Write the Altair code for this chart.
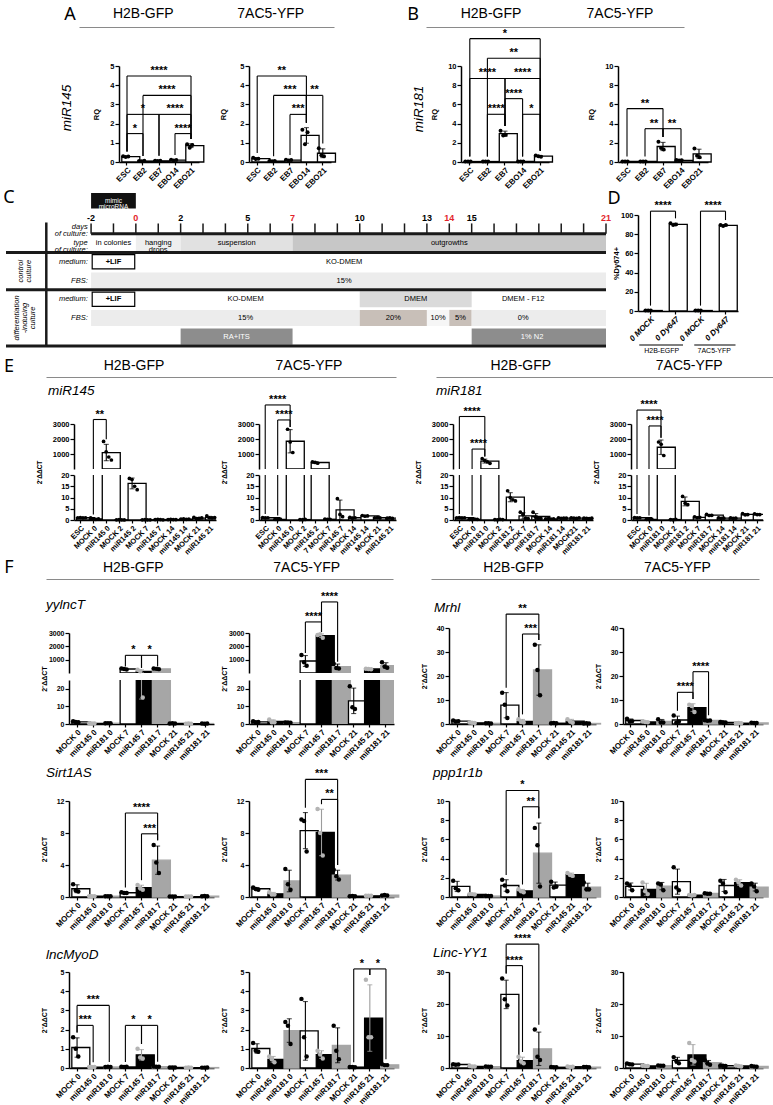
import altair as alt
import numpy as np
import pandas as pd

FONT = "Liberation Sans"
LETTER_FONT = "Noto Sans"
ONE = pd.DataFrame({"k": [0]})
HEADS = ["H2B-GFP", "7AC5-YFP"]
DDCT = "2\u207b\u0394\u0394CT"

# ---------------- A / B : RQ across differentiation stages ----------------
STAGES = ["ESC", "EB2", "EB7", "EBO14", "EBO21"]
A_H2B_PTS = [[0.30, 0.26, 0.28], [0.05, 0.04, 0.06], [0.06, 0.05, 0.07], [0.12, 0.08, 0.10], [0.92, 0.74, 0.89]]
A_7AC5_PTS = [[0.22, 0.15, 0.17], [0.05, 0.04, 0.05], [0.12, 0.08, 0.10], [1.68, 0.92, 1.55], [0.72, 0.35, 0.30]]
B_H2B_PTS = [[0.05, 0.06, 0.04], [0.05, 0.04, 0.06], [3.25, 2.75, 2.85], [0.05, 0.04, 0.06], [0.68, 0.60, 0.55]]
B_7AC5_PTS = [[0.05, 0.04, 0.06], [0.05, 0.04, 0.06], [2.10, 1.45, 1.30], [0.20, 0.15, 0.18], [1.40, 0.65, 0.50]]
A_H2B_SIG = [(0, 1, 1.48, "*"), (0, 2, 2.48, "*"), (2, 4, 2.48, "****"), (3, 4, 1.48, "****"),
             (1, 4, 3.47, "****"), (0, 4, 4.48, "****")]
A_7AC5_SIG = [(2, 3, 2.48, "***"), (1, 3, 3.47, "***"), (3, 4, 3.47, "**"), (0, 3, 4.48, "**")]
B_H2B_SIG = [(1, 2, 4.97, "****"), (3, 4, 4.97, "*"), (2, 3, 6.6, "****"), (0, 2, 8.7, "****"),
             (2, 4, 8.7, "****"), (1, 4, 10.8, "**"), (0, 4, 12.85, "*")]
B_7AC5_SIG = [(1, 2, 3.47, "**"), (2, 3, 3.47, "**"), (0, 2, 5.56, "**")]

# ---------------- D : Dy647 uptake ----------------
D_LABELS = ["0 MOCK", "0 Dy647", "0 MOCK", "0 Dy647"]
D_PTS = [[0.4, 0.6, 0.5], [91.5, 89.5, 90.0], [0.5, 0.4, 0.6], [89.5, 88.5, 89.5]]
D_SIG = [(0, 1, 104, "****"), (2, 3, 104, "****")]
D_GROUPS = [("H2B-EGFP", -0.45, 1.3, 0.45), ("7AC5-YFP", 1.75, 3.4, 2.55)]

# ---------------- E : mimic levels after transfection ----------------
E1_LABELS = ["ESC", "MOCK 0", "miR145 0", "MOCK 2", "miR145 2", "MOCK 7", "miR145 7", "MOCK 14",
             "miR145 14", "MOCK 21", "miR145 21"]
E1_PTS = [[1.0, 1.1, 0.9, 1.0], [0.9, 0.4, 0.3, 0.5], [1840, 1150, 800, 600], [0.1, 0.15, 0.1, 0.05],
          [18.5, 18.0, 15.0, 13.5], [0.1, 0.15, 0.1, 0.1], [0.2, 0.3, 0.2, 0.1], [0.2, 0.3, 0.2, 0.2],
          [0.4, 0.5, 0.3, 0.4], [1.2, 0.6, 0.7, 0.9], [1.8, 1.0, 0.9, 1.1]]
E1_SIG = [(1, 2, 3300, "**")]
E2_LABELS = ["ESC", "MOCK 0", "miR145 0", "MOCK 2", "miR145 2", "7 MOCK 7", "miR145 7", "MOCK 14",
             "miR145 14", "MOCK 21", "miR145 21"]
E2_PTS = [[1.1, 0.9, 1.0], [0.3, 0.2, 0.4], [2650, 1800, 1100], [0.2, 0.15, 0.25], [470, 440, 390],
          [0.4, 0.3, 0.3], [9.5, 2.5, 1.5], [1.2, 0.8, 1.0], [2.0, 1.7, 1.8], [1.0, 1.1, 0.9], [0.8, 0.9, 0.7]]
E2_SIG = [(1, 2, 3270, "****"), (0, 2, 4270, "****")]
E3_LABELS = ["ESC", "MOCK 0", "miR181 0", "MOCK 2", "miR181 2", "MOCK 7", "miR181 7", "MOCK 14",
             "miR181 14", "MOCK21", "miR181 21"]
E3_PTS = [[1.0, 1.1, 0.9, 1.0], [0.3, 0.2, 0.4, 0.3], [690, 560, 480, 380], [0.2, 0.1, 0.3, 0.2],
          [13.0, 10.0, 9.0, 8.5], [3.5, 2.5, 0.8, 0.6], [3.5, 1.2, 0.8, 0.7], [0.5, 0.6, 0.4, 0.5],
          [1.0, 0.7, 0.8, 0.8], [0.9, 0.8, 0.7, 0.9], [0.8, 0.7, 0.6, 0.8]]
E3_SIG = [(1, 2, 1330, "****"), (0, 2, 3500, "****")]
E4_LABELS = ["ESC", "MOCK 0", "miR181 0", "MOCK 2", "miR181 2", "MOCK 7", "miR181 7", "MOCK 14",
             "miR181 14", "MOCK 21", "miR181 21"]
E4_PTS = [[1.1, 0.9, 1.0], [0.3, 0.2, 0.4], [1800, 1650, 900], [0.2, 0.1, 0.3], [10.5, 7.5, 6.8],
          [1.4, 1.0, 1.2], [2.5, 2.0, 2.1], [0.9, 0.7, 0.8], [0.9, 0.7, 0.8], [2.8, 2.3, 2.4], [2.7, 2.4, 2.4]]
E4_SIG = [(1, 2, 2870, "****"), (0, 2, 3930, "****")]

# ---------------- F : lncRNA targets ----------------
F_LABELS = ["MOCK 0", "miR145 0", "miR181 0", "MOCK 7", "miR145 7", "miR181 7", "MOCK 21", "miR145 21", "miR181 21"]
F_KINDS = ["w", "k", "g"] * 3
YYLNCT_H2B = [[1.6, 1.1, 1.0], [0.4, 0.3, 0.3], [0.4, 0.5, 0.4], [330, 300, 270], [240, 125, 15],
              [340, 310, 290], [0.3, 0.4, 0.3], [0.2, 0.3, 0.2], [0.3, 0.2, 0.3]]
YYLNCT_H2B_SIG = [(3, 4, 1325, "*"), (4, 5, 1325, "*")]
YYLNCT_7AC5 = [[1.5, 1.0, 1.1], [2.5, 1.0, 1.0], [0.9, 0.8, 0.7], [1350, 800, 550], [2850, 2900, 2650],
               [700, 380, 330], [21.5, 9.5, 8.5], [320, 300, 280], [800, 480, 400]]
YYLNCT_7AC5_SIG = [(3, 4, 3830, "****"), (4, 5, 5330, "****")]
MRHL_H2B = [[1.5, 1.0, 1.2], [0.6, 0.5, 0.4], [0.3, 0.3, 0.2], [13.0, 8.0, 2.5], [2.0, 0.8, 0.6],
            [33.0, 22.5, 12.0], [0.3, 0.4, 0.3], [2.0, 1.0, 0.5], [0.2, 0.3, 0.2]]
MRHL_H2B_SIG = [(4, 5, 37.5, "***"), (3, 5, 45.8, "**")]
MRHL_7AC5 = [[2.2, 1.0, 1.2], [1.0, 0.8, 0.7], [2.0, 0.6, 0.6], [3.5, 0.5, 1.0], [8.0, 7.5, 5.0],
             [1.6, 1.4, 1.5], [0.8, 0.7, 0.6], [0.3, 0.4, 0.3], [0.5, 0.4, 0.4]]
MRHL_7AC5_SIG = [(3, 4, 13.2, "****"), (4, 5, 21.8, "****")]
SIRT_H2B = [[1.6, 0.8, 0.7], [0.1, 0.1, 0.1], [0.1, 0.1, 0.1], [0.6, 0.5, 0.5], [1.5, 1.1, 0.9],
            [6.5, 4.3, 3.0], [0.05, 0.05, 0.05], [0.05, 0.06, 0.05], [0.1, 0.12, 0.1]]
SIRT_H2B_SIG = [(4, 5, 7.9, "***"), (3, 5, 10.5, "****")]
SIRT_7AC5 = [[1.2, 1.0, 0.9], [0.6, 0.3, 0.3], [3.5, 1.6, 0.9], [9.7, 9.5, 5.7], [11.0, 8.0, 5.2],
             [3.4, 2.6, 2.2], [0.1, 0.12, 0.1], [0.15, 0.15, 0.15], [0.2, 0.25, 0.2]]
SIRT_7AC5_SIG = [(4, 5, 12.2, "**"), (3, 5, 14.7, "***")]
PPP_H2B = [[1.7, 0.9, 0.7], [0.3, 0.3, 0.25], [0.1, 0.1, 0.1], [1.8, 1.2, 0.6], [0.8, 0.6, 0.5],
           [7.2, 5.4, 1.1], [1.6, 1.0, 1.1], [2.5, 2.3, 2.2], [1.5, 0.8, 0.8]]
PPP_H2B_SIG = [(4, 5, 9.4, "**"), (3, 5, 11.1, "*")]
PPP_7AC5 = [[1.4, 1.2, 0.7], [1.5, 0.6, 0.3], [1.4, 1.3, 0.7], [3.1, 1.0, 0.7], [0.2, 0.15, 0.2],
            [0.4, 0.35, 0.35], [1.7, 1.4, 0.5], [1.8, 1.5, 1.2], [1.4, 1.1, 0.6]]
MYOD_H2B = [[1.6, 1.0, 0.6], [0.05, 0.05, 0.05], [0.05, 0.06, 0.05], [0.06, 0.05, 0.06], [1.0, 0.55, 0.5],
            [0.08, 0.07, 0.06], [0.03, 0.03, 0.03], [0.02, 0.03, 0.02], [0.02, 0.02, 0.03]]
MYOD_H2B_SIG = [(0, 1, 2.22, "***"), (0, 2, 3.26, "***"), (3, 4, 2.22, "*"), (4, 5, 2.22, "*")]
MYOD_7AC5 = [[1.3, 0.9, 0.85], [0.6, 0.45, 0.3], [2.4, 2.2, 1.25], [3.6, 1.6, 0.6], [0.9, 0.7, 0.5],
             [2.2, 0.9, 0.45], [0.05, 0.05, 0.04], [4.6, 1.6, 1.6], [0.2, 0.15, 0.15]]
MYOD_7AC5_SIG = [(6, 7, 5.16, "*"), (7, 8, 5.16, "*")]
YY1_H2B = [[1.2, 1.0, 1.1], [0.6, 0.5, 0.5], [0.5, 0.4, 0.4], [28.0, 21.5, 19.5], [3.5, 2.0, 1.5],
           [12.0, 3.5, 2.5], [0.3, 0.2, 0.2], [0.5, 0.3, 0.4], [0.3, 0.3, 0.2]]
YY1_H2B_SIG = [(3, 4, 32.0, "****"), (3, 5, 38.7, "****")]
YY1_7AC5 = [[1.4, 1.2, 1.1], [0.7, 0.6, 0.6], [0.8, 0.7, 0.7], [3.4, 2.2, 1.5], [7.8, 2.5, 2.0],
            [2.4, 1.5, 1.0], [0.8, 0.7, 0.6], [0.8, 0.6, 0.5], [0.6, 0.5, 0.4]]

# ---------------- C : culture timeline ----------------
DAY_TICKS = list(range(-2, 22))
DAY_NUMBERS = [-2, 0, 2, 5, 7, 10, 13, 14, 15, 21]
RED_DAYS = [0, 7, 14, 21]
CULTURE_CELLS = [  # row, first day, last day, fill
    (1, -2, 0, "#ffffff"), (1, 0, 2, "#eeeeee"), (1, 2, 7, "#e1e1e1"), (1, 7, 21, "#c7c7c7"),
    (3, -2, 21, "#ececec"),
    (4, 10, 15, "#dadada"),
    (5, -2, 10, "#ececec"), (5, 10, 13, "#c8bfb8"), (5, 13, 14, "#f6f6f6"), (5, 14, 15, "#c8bfb8"),
    (5, 15, 21, "#ececec"),
    (6, 2, 7, "#8d8d8d"), (6, 15, 21, "#8d8d8d"),
]
CULTURE_TEXT = [  # day, row, text, colour
    (-1, 1, "in colonies", "black"), (1, 1, "hanging\ndrops", "black"), (4.5, 1, "suspension", "black"),
    (14, 1, "outgrowths", "black"), (9.3, 2, "KO-DMEM", "black"), (9.3, 3, "15%", "black"),
    (4.9, 4, "KO-DMEM", "black"), (12.5, 4, "DMEM", "black"), (17.3, 4, "DMEM - F12", "black"),
    (4.9, 5, "15%", "black"), (11.5, 5, "20%", "black"), (13.5, 5, "10%", "black"), (14.5, 5, "5%", "black"),
    (17.3, 5, "0%", "black"), (4.5, 6, "RA+ITS", "white"), (17.7, 6, "1% N2", "white"),
]
LIF_ROWS = [2, 4]
ROW_NAMES = [(0.62, "days\nof culture:"), (1.5, "type\nof culture:"), (2.5, "medium:"), (3.5, "FBS:"),
             (4.5, "medium:"), (5.5, "FBS:")]
SECTION_NAMES = [(-5.15, 3.0, "control\nculture"), (-5.3, 5.5, "differentiation\n-inducing\nculture")]
SEPARATORS = [(-2, 21, 1), (-5.8, 21, 2), (-5.8, 21, 4), (-5.8, 21, 7)]

STYLE = {
    "w": {"fill": "#ffffff", "stroke": "#000000", "dot": "#000000", "err": "#000000"},
    "k": {"fill": "#000000", "stroke": "#000000", "dot": "#b4b4b4", "err": "#9c9c9c"},
    "g": {"fill": "#a6a6a6", "stroke": "#a6a6a6", "dot": "#000000", "err": "#000000"},
}


def frame(pts, kinds):
    rows = []
    for i, vals in enumerate(pts):
        for r, v in enumerate(vals):
            rows.append({"i": i, "rep": r, "v": v, **STYLE[kinds[i]]})
    return pd.DataFrame(rows)


def tops_of(pts):
    out = []
    for vals in pts:
        a = np.asarray(vals, dtype=float)
        sd = a.std(ddof=1) if a.size > 1 else 0.0
        out.append(max(a.max(), a.mean() + sd))
    return out


def label_expr(labels):
    return "[" + ",".join("'%s'" % s for s in labels) + "][datum.value]"


def x_axis(labels, size=8, style="normal"):
    return alt.Axis(title=None, labelExpr=label_expr(labels), labelAngle=-45, labelFontSize=size,
                    labelFontWeight="bold", labelFontStyle=style, labelFont=FONT, labelColor="black",
                    tickColor="black", tickSize=3, tickWidth=1.2, domainColor="black", domainWidth=1.5,
                    labelPadding=1, labelOverlap=False)


def y_axis(values, title, tx=None, ty=None, size=7.5, tsize=7.5):
    kw = dict(values=values, format="d", labelFont=FONT, labelFontSize=size, labelFontWeight="bold",
              labelColor="black", tickColor="black", tickSize=4, tickWidth=1.2, domainColor="black",
              domainWidth=1.5, labelPadding=1, grid=False)
    if title:
        kw.update(title=title, titleFont=FONT, titleFontSize=tsize, titleFontWeight="bold", titleColor="black")
        if tx is not None:
            kw["titleX"] = tx
        if ty is not None:
            kw["titleY"] = ty
    else:
        kw["title"] = None
    return alt.Axis(**kw)


def data_layer(bar_df, dot_df, n, ysc, yax, xax, pi, clip, dot):
    X = alt.X("i:O", scale=alt.Scale(type="band", domain=list(range(n)), paddingInner=pi,
                                      paddingOuter=pi / 2), axis=xax)
    layers = [
        alt.Chart(bar_df).mark_bar(strokeWidth=1.3, clip=clip).encode(
            x=X, y=alt.Y("mean(v):Q", scale=ysc, axis=yax),
            fill=alt.Fill("fill:N", scale=None), stroke=alt.Stroke("stroke:N", scale=None)),
        alt.Chart(bar_df).mark_errorbar(extent="stdev", ticks=True, size=5, thickness=1.1, clip=clip).encode(
            x=X, y=alt.Y("v:Q", scale=ysc, axis=yax), color=alt.Color("err:N", scale=None)),
    ]
    if len(dot_df):
        layers.append(alt.Chart(dot_df).mark_circle(size=dot, opacity=1).encode(
            x=X, xOffset=alt.XOffset("rep:O"), y=alt.Y("v:Q", scale=ysc, axis=yax),
            color=alt.Color("dot:N", scale=None)))
    return alt.layer(*layers)


def sig_parts(sig, legs, n, ysc, yax, star=11):
    xs = alt.Scale(domain=[-0.5, n - 0.5], nice=False, zero=False)
    parts = []
    if sig:
        sdf = pd.DataFrame([{"a": a, "b": b, "mid": (a + b) / 2, "lvl": lvl, "lab": lab}
                            for a, b, lvl, lab in sig])
        parts.append(alt.Chart(sdf).mark_rule(color="black", strokeWidth=1.1).encode(
            x=alt.X("a:Q", scale=xs, axis=None), x2="b:Q", y=alt.Y("lvl:Q", scale=ysc, axis=yax)))
        parts.append(alt.Chart(sdf).mark_text(fontSize=star, fontWeight="bold", baseline="alphabetic", dy=-2,
                                              font=FONT, color="black").encode(
            x=alt.X("mid:Q", scale=xs, axis=None), y=alt.Y("lvl:Q", scale=ysc, axis=yax), text="lab:N"))
    if legs:
        ldf = pd.DataFrame(legs, columns=["i", "top", "bot"])
        parts.append(alt.Chart(ldf).mark_rule(color="black", strokeWidth=1.1).encode(
            x=alt.X("i:Q", scale=xs, axis=None), y=alt.Y("top:Q", scale=ysc, axis=yax), y2="bot:Q"))
    return parts, xs


def note(text, x, y, size=13.5, style="italic", angle=0, align="left", font=FONT):
    return alt.Chart(ONE).mark_text(text=text, fontSize=size, fontStyle=style, angle=angle, align=align,
                                    baseline="middle", font=font, color="black").encode(
        x=alt.value(x), y=alt.value(y))


def letter(text, x, y):
    return note(text, x, y, size=18, style="normal", align="center", font=LETTER_FONT)


def finish(base, parts, width, height):
    ch = alt.layer(base, alt.layer(*parts)).resolve_scale(x="independent") if parts else base
    return ch.properties(width=width, height=height)


def simple_panel(pts, labels, kinds, ydom, yticks, sig, width, height, ytitle, tx, pi=0.35, dot=16,
                 lsize=8, lstyle="normal", ysize=7.5, tsize=7.5, annos=(), groups=None):
    n = len(pts)
    df = frame(pts, kinds)
    ysc = alt.Scale(domain=ydom, nice=False, zero=False)
    yax = y_axis(yticks, ytitle, tx=tx, size=ysize, tsize=tsize)
    base = data_layer(df, df, n, ysc, yax, x_axis(labels, lsize, lstyle), pi, False, dot)
    tops = tops_of(pts)
    pad = 0.05 * (ydom[1] - ydom[0])
    legs = []
    for a, b, lvl, _ in sig:
        for i in (a, b):
            legs.append((i, lvl, min(tops[i] + pad, lvl - 0.3 * pad)))
    parts, xs = sig_parts(sig, legs, n, ysc, yax)
    if groups:
        gdf = pd.DataFrame(groups, columns=["g", "x0", "x1", "xm"])
        parts.append(alt.Chart(gdf).mark_rule(color="black", strokeWidth=1.1).encode(
            x=alt.X("x0:Q", scale=xs, axis=None), x2="x1:Q", y=alt.value(130)))
        parts.append(alt.Chart(gdf).mark_text(fontSize=7, font=FONT, baseline="top", color="black").encode(
            x=alt.X("xm:Q", scale=xs, axis=None), y=alt.value(131.5), text="g:N"))
    return finish(base, parts + list(annos), width, height)


def spacer(w, h):
    return alt.Chart(ONE).mark_point(opacity=0, size=1).properties(width=w, height=h)


def broken_panel(pts, labels, kinds, up_dom, up_ticks, lo_dom, lo_ticks, sig, width, up_h, gap, lo_h,
                 ytitle, tx, ty, top_space=0, pi=0.38, dot=14, lsize=7.5, ysize=7.5, tsize=6.5, annos=()):
    n = len(pts)
    df = frame(pts, kinds)
    means = [float(np.mean(p)) for p in pts]
    lo_top = lo_dom[1]
    big = [i for i, m in enumerate(means) if m > lo_top]
    ysc_u = alt.Scale(domain=up_dom, nice=False, zero=False)
    ysc_l = alt.Scale(domain=lo_dom, nice=False, zero=False)
    yax_u = y_axis(up_ticks, None, size=ysize)
    yax_l = y_axis(lo_ticks, ytitle, tx=tx, ty=ty, size=ysize, tsize=tsize)
    tops = tops_of(pts)
    up_pad = 0.05 * (up_dom[1] - up_dom[0])
    lo_pad = 0.08 * (lo_dom[1] - lo_dom[0])
    up_legs, lo_legs = [], []
    for a, b, lvl, _ in sig:
        for i in (a, b):
            if tops[i] > lo_top:
                up_legs.append((i, lvl, min(tops[i] + up_pad, lvl - 0.3 * up_pad)))
            else:
                up_legs.append((i, lvl, up_dom[0]))
                lo_legs.append((i, lo_top, tops[i] + lo_pad))
    up_base = data_layer(df[df["i"].isin(big)], df[df["v"] > lo_top], n, ysc_u, yax_u, None, pi, True, dot)
    up_parts, _ = sig_parts(sig, up_legs, n, ysc_u, yax_u)
    upper = finish(up_base, up_parts + list(annos), width, up_h)
    lo_base = data_layer(df, df[df["v"] <= lo_top], n, ysc_l, yax_l, x_axis(labels, lsize), pi, True, dot)
    lo_parts, _ = sig_parts([], lo_legs, n, ysc_l, yax_l)
    lower = finish(lo_base, lo_parts, width, lo_h)
    # the upper segment is a unit view, so it keeps its own height inside this column
    items = [upper, spacer(1, gap), lower]
    if top_space:
        items = [spacer(1, top_space)] + items
    return alt.vconcat(*items, spacing=0, bounds="flush")


def header(width, mark=None, lx=0, ly=0, pad=5, anchor=None):
    hd = pd.DataFrame({"h": HEADS})
    layers = [alt.Chart(hd).mark_point(opacity=0, size=1).encode(
        x=alt.X("h:N", sort=HEADS, axis=alt.Axis(orient="top", title=None, ticks=False, labelAngle=0,
                                                  labelFont=FONT, labelFontSize=14, labelColor="black",
                                                  labelPadding=pad, domainColor="#8a8a8a", domainWidth=1.2)))]
    if mark:
        layers.append(letter(mark, lx, ly))
    if anchor:
        layers.append(alt.Chart(ONE).mark_point(opacity=0, size=1, filled=True).encode(
            x=alt.value(anchor[0]), y=alt.value(anchor[1])))
    return alt.layer(*layers).properties(width=width, height=1)


def timeline_chart():
    xs = alt.Scale(domain=[-5.8, 21], nice=False, zero=False)
    ys = alt.Scale(domain=[0, 7], nice=False, zero=False, reverse=True)

    def X(f):
        return alt.X(f, scale=xs, axis=None)

    def Y(f):
        return alt.Y(f, scale=ys, axis=None)

    cells = pd.DataFrame(CULTURE_CELLS, columns=["row", "d0", "d1", "fill"])
    cells["y0"] = cells["row"] + 0.07
    cells["y1"] = cells["row"] + 0.93
    lif = pd.DataFrame({"row": LIF_ROWS})
    lif["d0"], lif["d1"] = -1.95, -0.05
    lif["y0"] = lif["row"] + 0.12
    lif["y1"] = lif["row"] + 0.88
    mimic = pd.DataFrame({"d0": [-2], "d1": [0], "y0": [-1.18], "y1": [-0.35], "xm": [-1], "ym": [-0.77],
                          "t": ["mimic\nmicroRNA"]})
    seps = pd.DataFrame(SEPARATORS, columns=["d0", "d1", "y"])
    vline = pd.DataFrame({"d": [-4], "y0": [0.4], "y1": [7]})
    ticks = pd.DataFrame({"d": DAY_TICKS})
    ticks["y0"], ticks["y1"] = 0.45, 1.0
    nums = pd.DataFrame({"d": DAY_NUMBERS})
    nums["t"] = nums["d"].astype(str)
    nums["col"] = ["#e3242b" if d in RED_DAYS else "black" for d in DAY_NUMBERS]
    nums["y"] = 0.42
    txt = pd.DataFrame(CULTURE_TEXT, columns=["d", "row", "t", "col"])
    txt["y"] = txt["row"] + 0.5
    lift = pd.DataFrame({"d": [-1.0] * len(LIF_ROWS), "y": [r + 0.5 for r in LIF_ROWS], "t": ["+LIF"] * len(LIF_ROWS)})
    names = pd.DataFrame(ROW_NAMES, columns=["y", "t"])
    names["d"] = -2.15
    secs = pd.DataFrame(SECTION_NAMES, columns=["d", "y", "t"])

    layers = [
        alt.Chart(cells).mark_rect().encode(x=X("d0:Q"), x2="d1:Q", y=Y("y0:Q"), y2="y1:Q",
                                            fill=alt.Fill("fill:N", scale=None)),
        alt.Chart(lif).mark_rect(fill="white", stroke="black", strokeWidth=1.2).encode(
            x=X("d0:Q"), x2="d1:Q", y=Y("y0:Q"), y2="y1:Q"),
        alt.Chart(mimic).mark_rect(color="#111111").encode(x=X("d0:Q"), x2="d1:Q", y=Y("y0:Q"), y2="y1:Q"),
        alt.Chart(mimic).mark_text(color="white", fontSize=6.5, lineBreak="\n", lineHeight=6.5, font=FONT).encode(
            x=X("xm:Q"), y=Y("ym:Q"), text="t:N"),
        alt.Chart(ticks).mark_rule(strokeWidth=1.5, color="#1a1a1a").encode(x=X("d:Q"), y=Y("y0:Q"), y2="y1:Q"),
        alt.Chart(seps).mark_rule(strokeWidth=3, color="#1a1a1a").encode(x=X("d0:Q"), x2="d1:Q", y=Y("y:Q")),
        alt.Chart(vline).mark_rule(strokeWidth=2.5, color="#1a1a1a").encode(x=X("d:Q"), y=Y("y0:Q"), y2="y1:Q"),
        alt.Chart(nums).mark_text(fontSize=9, fontWeight="bold", baseline="bottom", font=FONT).encode(
            x=X("d:Q"), y=Y("y:Q"), text="t:N", color=alt.Color("col:N", scale=None)),
        alt.Chart(txt).mark_text(fontSize=7.5, lineBreak="\n", lineHeight=7, font=FONT).encode(
            x=X("d:Q"), y=Y("y:Q"), text="t:N", color=alt.Color("col:N", scale=None)),
        alt.Chart(lift).mark_text(fontSize=7.5, fontWeight="bold", font=FONT, color="black").encode(
            x=X("d:Q"), y=Y("y:Q"), text="t:N"),
        alt.Chart(names).mark_text(fontSize=7.5, fontStyle="italic", align="right", lineBreak="\n", lineHeight=7,
                                   font=FONT, color="black").encode(x=X("d:Q"), y=Y("y:Q"), text="t:N"),
        alt.Chart(secs).mark_text(fontSize=7.5, fontStyle="italic", angle=270, lineBreak="\n", lineHeight=8,
                                  font=FONT, color="black").encode(x=X("d:Q"), y=Y("y:Q"), text="t:N"),
        letter("C", 3, -17),
    ]
    return alt.layer(*layers).properties(width=600, height=131)


def hrow(items, x0=5):
    # items: (left edge, width taken in the row, chart); nested columns take no width in a flush row
    parts, cur = [], x0
    for x, w, ch in items:
        if x - cur > 0:
            parts.append(spacer(x - cur, 1))
        parts.append(ch)
        cur = x + w
    return alt.hconcat(*parts, spacing=0, bounds="flush")


def vcol(tops, y0):
    # nested rows take no height in a flush column, so spacers carry the full row pitch
    parts, cur = [], y0
    for y, ch in tops:
        if y - cur > 0:
            parts.append(spacer(1, y - cur))
        parts.append(ch)
        cur = y
    return alt.vconcat(*parts, spacing=0, bounds="flush")


W5 = "w" * 5
A1 = simple_panel(A_H2B_PTS, STAGES, W5, [0, 5], [0, 1, 2, 3, 4, 5], A_H2B_SIG, 80, 96, "RQ", -19,
                  annos=[note("miR145", -52, 42, angle=270, align="center")])
A2 = simple_panel(A_7AC5_PTS, STAGES, W5, [0, 5], [0, 1, 2, 3, 4, 5], A_7AC5_SIG, 82, 96, "RQ", -22)
B1 = simple_panel(B_H2B_PTS, STAGES, W5, [0, 10], [0, 2, 4, 6, 8, 10], B_H2B_SIG, 88, 96, "RQ", -23,
                  annos=[note("miR181", -42, 43, angle=270, align="center")])
B2 = simple_panel(B_7AC5_PTS, STAGES, W5, [0, 10], [0, 2, 4, 6, 8, 10], B_7AC5_SIG, 90, 96, "RQ", -23)
D = simple_panel(D_PTS, D_LABELS, "wwww", [0, 100], [0, 20, 40, 60, 80, 100], D_SIG, 100, 96, "%Dy674+", -18,
                 pi=0.5, lstyle="italic", groups=D_GROUPS, annos=[letter("D", -24, -16)])
C = timeline_chart()

W11 = "w" * 11
E_UP = ([0, 3000], [1000, 2000, 3000])
E_LO = ([0, 20], [0, 5, 10, 15, 20])
E1 = broken_panel(E1_PTS, E1_LABELS, W11, *E_UP, *E_LO, E1_SIG, 142, 45, 6, 45, DDCT, -31.5, -3,
                  annos=[note("miR145", -26, -33)])
E2 = broken_panel(E2_PTS, E2_LABELS, W11, *E_UP, *E_LO, E2_SIG, 137, 45, 6, 45, DDCT, -31.5, -3)
E3 = broken_panel(E3_PTS, E3_LABELS, W11, *E_UP, *E_LO, E3_SIG, 140, 45, 6, 45, DDCT, -31.5, -3,
                  annos=[note("miR181", -17, -33)])
E4 = broken_panel(E4_PTS, E4_LABELS, W11, *E_UP, *E_LO, E4_SIG, 132, 45, 6, 45, DDCT, -31.5, -3)


def fpanel(pts, ydom, yticks, sig, width, gene=None, gx=-23, gy=-28):
    annos = [note(gene, gx, gy)] if gene else []
    return simple_panel(pts, F_LABELS, F_KINDS, ydom, yticks, sig, width, 96, DDCT, -21.5, dot=20,
                        ysize=7, tsize=7, annos=annos)


Y_UP = ([0, 3000], [1000, 2000, 3000])
Y_LO = ([0, 25], [0, 10, 20])
F11 = broken_panel(YYLNCT_H2B, F_LABELS, F_KINDS, *Y_UP, *Y_LO, YYLNCT_H2B_SIG, 145, 40, 7, 44, DDCT, -21.5, -1.5,
                   top_space=5, pi=0.35, dot=20, lsize=8, ysize=7, tsize=7, annos=[note("yylncT", -23, -28)])
F12 = broken_panel(YYLNCT_7AC5, F_LABELS, F_KINDS, *Y_UP, *Y_LO, YYLNCT_7AC5_SIG, 145, 40, 7, 44, DDCT, -21.5, -1.5,
                   top_space=5, pi=0.35, dot=20, lsize=8, ysize=7, tsize=7)
F13 = fpanel(MRHL_H2B, [0, 40], [0, 10, 20, 30, 40], MRHL_H2B_SIG, 147, "Mrhl", -15, -20)
F14 = fpanel(MRHL_7AC5, [0, 40], [0, 10, 20, 30, 40], MRHL_7AC5_SIG, 140)
F21 = fpanel(SIRT_H2B, [0, 12], [0, 4, 8, 12], SIRT_H2B_SIG, 145, "Sirt1AS", -23, -28)
F22 = fpanel(SIRT_7AC5, [0, 12], [0, 4, 8, 12], SIRT_7AC5_SIG, 145)
F23 = fpanel(PPP_H2B, [0, 10], [0, 2, 4, 6, 8, 10], PPP_H2B_SIG, 147, "ppp1r1b", -16, -28)
F24 = fpanel(PPP_7AC5, [0, 10], [0, 2, 4, 6, 8, 10], [], 140)
F31 = fpanel(MYOD_H2B, [0, 5], [0, 1, 2, 3, 4, 5], MYOD_H2B_SIG, 145, "lncMyoD", -23, -17)
F32 = fpanel(MYOD_7AC5, [0, 5], [0, 1, 2, 3, 4, 5], MYOD_7AC5_SIG, 145)
F33 = fpanel(YY1_H2B, [0, 30], [0, 10, 20, 30], YY1_H2B_SIG, 147, "Linc-YY1", -16, -19)
F34 = fpanel(YY1_7AC5, [0, 30], [0, 10, 20, 30], [], 140)

FX = [68, 248, 448, 622]
FW = [145, 145, 147, 140]


def frow(charts, nested):
    return hrow([(x, 0 if nest else w, ch) for x, w, ch, nest in zip(FX, FW, charts, nested)])


chart = vcol([
    (26, hrow([(78, 255, header(255, "A", -9, -12, pad=7, anchor=(-78, -26))),
               (425, 258, header(258, "B", -13, -12, pad=7))])),
    (65, hrow([(118, 80, A1), (248, 82, A2), (460, 88, B1), (617, 90, B2)])),
    (214, hrow([(5, 600, C), (637, 100, D)])),
    (376, hrow([(45, 350, header(350, "E", -37, -10)), (435, 337, header(337))])),
    (423, hrow([(73, 0, E1), (258, 0, E2), (452, 0, E3), (630, 0, E4)])),
    (578, hrow([(45, 347, header(347, "F", -37, -11)), (430, 328, header(328))])),
    (627, frow([F11, F12, F13, F14], [True, True, False, False])),
    (800, frow([F21, F22, F23, F24], [False] * 4)),
    (971, frow([F31, F32, F33, F34], [False] * 4)),
], 26).properties(padding=0).configure(font=FONT).configure_view(stroke=None)

chart.save("out.html", embed_options={"renderer": "svg", "actions": False})
